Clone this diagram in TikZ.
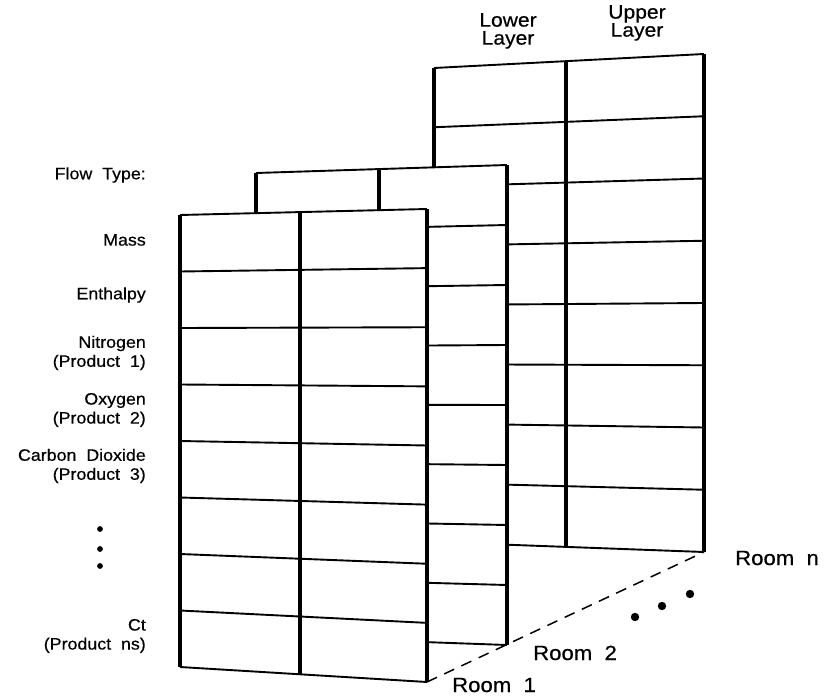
\documentclass[tikz,border=0pt]{standalone}
\usepackage{fontspec}
\setmainfont{Liberation Sans}[FakeStretch=1.08,WordSpace=2,FakeBold=0.5]
\usetikzlibrary{calc}

% One room: a two-column, eight-row table seen in slight perspective.
% #1 name, #2..#5 corners (top left, top right, bottom left, bottom right),
% #6 position of the column divider as a fraction of the width.
\newcommand\roompanel[6]{%
  \coordinate (#1-tl) at #2;
  \coordinate (#1-tr) at #3;
  \coordinate (#1-bl) at #4;
  \coordinate (#1-br) at #5;
  \coordinate (#1-mt) at ($(#1-tl)!#6!(#1-tr)$);
  \coordinate (#1-mb) at ($(#1-bl)!#6!(#1-br)$);
  \fill[white] (#1-tl) -- (#1-tr) -- (#1-br) -- (#1-bl) -- cycle;
  \foreach \i in {0,...,8}
    \draw[rowrule] ($(#1-tl)!\i/8!(#1-bl)$) -- ($(#1-tr)!\i/8!(#1-br)$);
  \draw[coledge] (#1-tl) -- (#1-bl);
  \draw[coledge] (#1-mt) -- (#1-mb);
  \draw[coledge] (#1-tr) -- (#1-br);
}

\begin{document}
\begin{tikzpicture}[x=1pt,y=-1pt,
  coledge/.style={line width=3.2pt},
  rowrule/.style={line width=1.9pt},
  depthline/.style={line width=1.5pt,dash pattern=on 11pt off 8pt},
  flowlabel/.style={anchor=east,align=right,inner sep=0pt,
    font=\fontsize{16.5}{19}\selectfont},
  roomlabel/.style={anchor=base west,inner sep=0pt,
    font=\fontsize{20.5}{24}\selectfont},
  layerlabel/.style={anchor=north,align=center,inner sep=0pt,
    font=\fontsize{19.5}{18}\selectfont}]
\useasboundingbox (0,0) rectangle (827,698);

% rooms, drawn back to front so nearer ones hide the farther ones
\roompanel{roomn}{(434,68)}{(704,54)}{(434,542)}{(704,552)}{0.489}
\roompanel{roomb}{(256,173)}{(507,165)}{(256,636)}{(507,645)}{0.49}
\roompanel{rooma}{(180,215)}{(427,209)}{(180,667)}{(427,682)}{0.486}

% depth axis through the bottom corners of the rooms
\draw[depthline] (rooma-br) -- (roomn-br);

% ellipsis between Room 2 and Room n
\fill (635,617) circle (4.2);
\fill (662,606) circle (4.2);
\fill (690,594) circle (4.2);

% ellipsis in the list of flow types
\fill (100,529) circle (2.9);
\fill (100,549) circle (2.9);
\fill (100,566) circle (2.9);

% room names
\node[roomlabel] (lroom1) at (452,692) {Room 1};
\node[roomlabel] (lroom2) at (533,660) {Room 2};
\node[roomlabel] (lroomn) at (735,565) {Room n};

% layer names above the columns
\node[layerlabel] (llower) at (508,13) {Lower\\Layer};
\node[layerlabel] (lupper) at (637,5) {Upper\\Layer};

% flow types, one per row
\node[flowlabel] (lflow) at (146,175) {Flow Type:};
\node[flowlabel] (lmass) at (146,240) {Mass};
\node[flowlabel] (lenth) at (146,295) {Enthalpy};
\node[flowlabel] (lnit) at (146,353) {Nitrogen\\(Product 1)};
\node[flowlabel] (loxy) at (146,410) {Oxygen\\(Product 2)};
\node[flowlabel] (lcod) at (146,466) {Carbon Dioxide\\(Product 3)};
\node[flowlabel] (lct) at (146,636) {Ct\\(Product ns)};
\end{tikzpicture}
\end{document}
